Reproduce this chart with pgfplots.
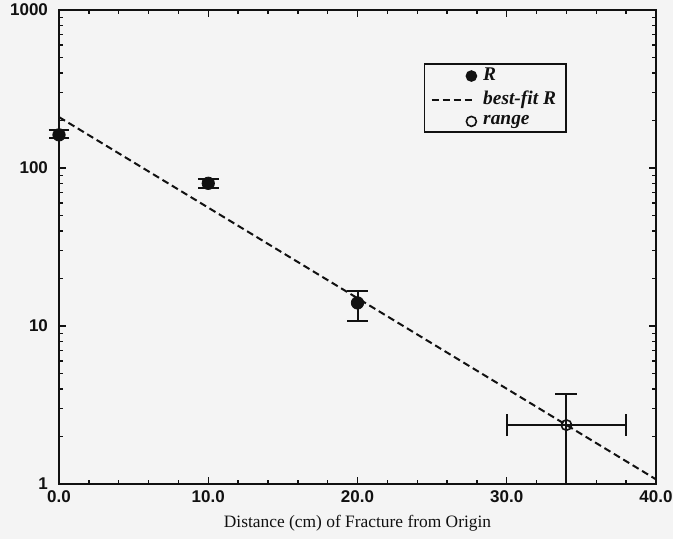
\documentclass[border=0pt]{standalone}
\usepackage{fontspec}
\setmainfont{Liberation Serif}
\setsansfont{Liberation Sans}
\usepackage{pgfplots}
\pgfplotsset{compat=1.18}
\definecolor{paper}{HTML}{F4F4F4}
\definecolor{ink}{HTML}{111111}
% legend images: a single mark at the right, or a short dashed line
\pgfplotsset{
  markleg/.style={legend image code/.code={%
    \draw[##1, mark size=2.5pt] plot coordinates {(0.70cm,0cm)};
    \path (0cm,0cm) (0.82cm,0cm);}},
  lineleg/.style={legend image code/.code={%
    \draw[##1] (0cm,0cm) -- (0.72cm,0cm);
    \path (0.82cm,0cm);}},
}

\begin{document}
\begin{tikzpicture}
% paper background
\fill[paper] (-29.5pt,-27.5pt) rectangle (307pt,242pt);
\begin{axis}[
  at={(0,0)}, anchor=south west,
  scale only axis, width=298.5pt, height=237pt,
  xmin=0, xmax=40, ymode=log, ymin=1, ymax=1000,
  xtick={0,10,20,30,40}, xticklabels={0.0,10.0,20.0,30.0,40.0},
  minor x tick num=4,
  ytick={1,10,100,1000}, yticklabels={1,10,100,1000},
  tick align=inside,
  major tick length=3.5pt, minor tick length=2pt,
  every tick/.style={ink, line width=0.7pt},
  axis line style={ink, line width=1pt},
  ticklabel style={ink, font=\sffamily\bfseries\fontsize{8.5}{10}\selectfont},
  yticklabel style={xshift=-2pt},
  xlabel={Distance (cm) of Fracture from Origin},
  xlabel style={at={(axis description cs:0.5,0)}, anchor=center, yshift=-19.5pt,
    font=\fontsize{8.7}{10}\selectfont, text=ink},
  clip=false,
  legend style={at={(0.611,0.888)}, anchor=north west, draw=ink, line width=0.8pt,
    fill=paper, text=ink, font=\bfseries\itshape\fontsize{9.7}{10}\selectfont,
    inner xsep=3pt, inner ysep=0.3pt, row sep=0pt,
    nodes={inner ysep=1.85pt}},
  legend cell align=left,
]
% measured R with asymmetric errors
\addplot[only marks, mark=*, mark size=3.1pt, ink, markleg,
  error bars/.cd, y dir=both, y explicit,
  error bar style={ink, line width=1pt},
  error mark options={ink, rotate=90, mark size=5.2pt, line width=1pt}]
  coordinates {
    (0,162)  += (0,12)  -= (0,7)
    (10,80)  += (0,5)   -= (0,5.5)
    (20,14)  += (0,2.7) -= (0,3.2)
  };
\addlegendentry{R}
% best-fit exponential decay
\addplot[ink, line width=1pt, dash pattern=on 3.5pt off 2pt, lineleg]
  coordinates {(0,210) (40,1.07)};
\addlegendentry{best-fit R}
% range estimate
\addplot[only marks, mark=o, mark size=2.6pt, ink, mark options={line width=0.8pt},
  markleg,
  error bars/.cd, x dir=both, x explicit, y dir=both, y explicit,
  error bar style={ink, line width=1pt},
  error mark options={ink, rotate=90, mark size=5.5pt, line width=0.9pt}]
  coordinates {
    (34,2.36) += (4,1.35) -= (4,1.36)
  };
\addlegendentry{range}
\end{axis}
\pgfresetboundingbox
\path (-29.5pt,-27.5pt) rectangle (307pt,242pt);
\end{tikzpicture}
\end{document}
